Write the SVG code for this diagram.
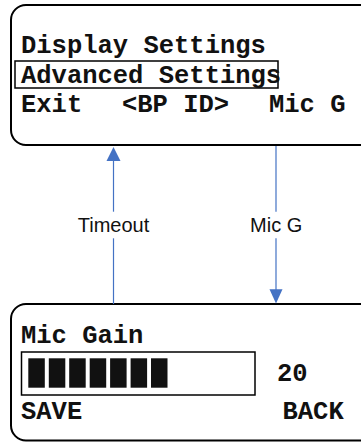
<svg xmlns="http://www.w3.org/2000/svg" width="361" height="442" viewBox="0 0 361 442">
<style>
.screen{fill:#fff;stroke:#000;stroke-width:2}
.sel{fill:none;stroke:#000;stroke-width:1.5}
.mono{font-family:"Liberation Mono","Courier New",monospace;font-weight:bold;font-size:25.5px;fill:#111}
.lbl{font-family:"Liberation Sans",Arial,sans-serif;font-size:20px;fill:#111;text-anchor:middle}
.conn{stroke:#4472C4;stroke-width:1.2;fill:none}
.head{fill:#4472C4}
.seg{fill:#111}
</style>
<rect width="361" height="442" fill="#fff"/>
<g id="main-menu">
<rect class="screen" x="11" y="5" width="380" height="140" rx="15"/>
<text class="mono" x="21" y="53">Display Settings</text>
<rect class="sel" x="15" y="61" width="263" height="27"/>
<text class="mono" x="21" y="82.5">Advanced Settings</text>
<text class="mono" x="21" y="111.5">Exit</text>
<text class="mono" x="122" y="111.5">&lt;BP ID&gt;</text>
<text class="mono" x="269" y="111.5">Mic G</text>
</g>
<g id="mic-gain">
<rect class="screen" x="11" y="304" width="380" height="136.5" rx="15"/>
<text class="mono" x="21" y="342.5">Mic Gain</text>
<rect class="sel" x="21.5" y="352" width="233.5" height="43"/>
<rect class="seg" x="28.3" y="358.3" width="16.5" height="29.4"/>
<rect class="seg" x="48.8" y="358.3" width="16.5" height="29.4"/>
<rect class="seg" x="69.2" y="358.3" width="16.5" height="29.4"/>
<rect class="seg" x="89.7" y="358.3" width="16.5" height="29.4"/>
<rect class="seg" x="110.1" y="358.3" width="16.5" height="29.4"/>
<rect class="seg" x="130.6" y="358.3" width="16.5" height="29.4"/>
<rect class="seg" x="151" y="358.3" width="16.5" height="29.4"/>
<text class="mono" x="277" y="381">20</text>
<text class="mono" x="21" y="418.5">SAVE</text>
<text class="mono" x="282.5" y="418.5">BACK</text>
</g>
<g id="connectors">
<g id="timeout">
<line class="conn" x1="113.5" y1="304" x2="113.5" y2="238.3"/>
<line class="conn" x1="113.5" y1="211.7" x2="113.5" y2="160"/>
<polygon class="head" points="113.5,147 106.5,161 120.5,161"/>
<text class="lbl" x="113.5" y="231.7">Timeout</text>
</g>
<g id="micg">
<line class="conn" x1="276" y1="146" x2="276" y2="211.7"/>
<line class="conn" x1="276" y1="238.3" x2="276" y2="290"/>
<polygon class="head" points="276,303.5 269.5,289.3 282.5,289.3"/>
<text class="lbl" x="276.2" y="232.3">Mic G</text>
</g>
</g>
</svg>
